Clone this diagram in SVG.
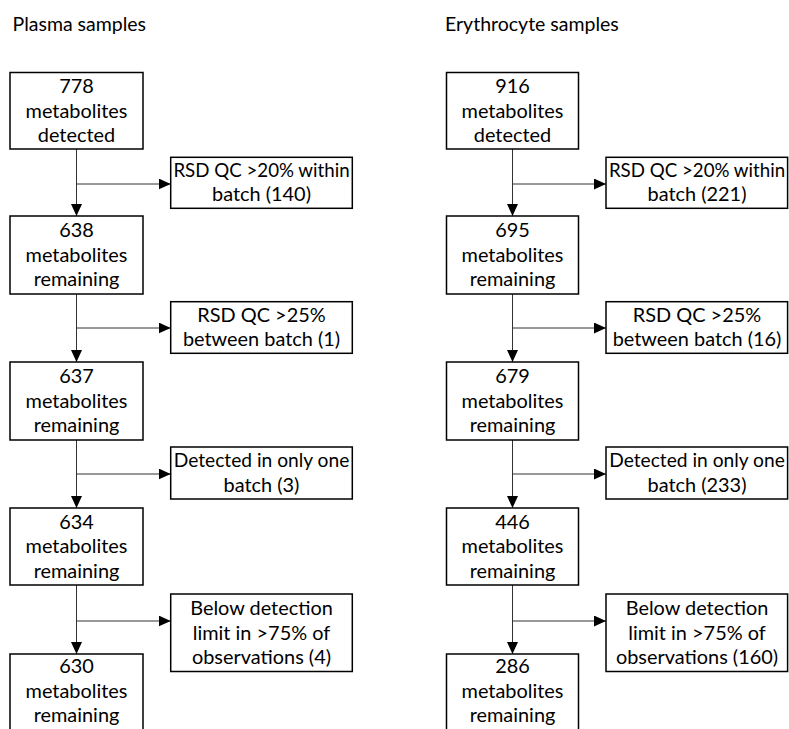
<svg xmlns="http://www.w3.org/2000/svg" width="789" height="729" viewBox="0 0 789 729">
<style>
  .bg{fill:#ffffff}
  .box{fill:#ffffff;stroke:#000000;stroke-width:1.5}
  .t{font-family:Lato,"Liberation Sans",sans-serif;font-size:19.9px;fill:#000000;text-anchor:middle}
  .w{font-size:18.7px}
  .d{font-size:19.2px}
  .title{font-family:Lato,"Liberation Sans",sans-serif;font-size:19.5px;fill:#000000}
  .c{stroke:#333333;stroke-width:1;fill:none;marker-end:url(#ah)}
</style>
<defs>
  <marker id="ah" markerUnits="userSpaceOnUse" markerWidth="12" markerHeight="11" refX="12" refY="5.5" orient="auto">
    <path d="M0,0 L12,5.5 L0,11 Z" fill="#000000"/>
  </marker>
</defs>
<rect class="bg" x="0" y="0" width="789" height="729"/>

<text class="title" x="12.5" y="30.5">Plasma samples</text>
<text class="title" x="445" y="30.5">Erythrocyte samples</text>

<g id="connectors">
  <line class="c" x1="76.5" y1="149" x2="76.5" y2="216"/>
  <line class="c" x1="76.5" y1="184" x2="170.7" y2="184"/>
  <line class="c" x1="76.5" y1="294" x2="76.5" y2="362"/>
  <line class="c" x1="76.5" y1="328" x2="170.7" y2="328"/>
  <line class="c" x1="76.5" y1="440" x2="76.5" y2="508"/>
  <line class="c" x1="76.5" y1="474" x2="170.7" y2="474"/>
  <line class="c" x1="76.5" y1="585" x2="76.5" y2="654"/>
  <line class="c" x1="76.5" y1="621" x2="170.7" y2="621"/>

  <line class="c" x1="512.5" y1="149" x2="512.5" y2="216"/>
  <line class="c" x1="512.5" y1="184" x2="606" y2="184"/>
  <line class="c" x1="512.5" y1="294" x2="512.5" y2="362"/>
  <line class="c" x1="512.5" y1="328" x2="606" y2="328"/>
  <line class="c" x1="512.5" y1="440" x2="512.5" y2="508"/>
  <line class="c" x1="512.5" y1="474" x2="606" y2="474"/>
  <line class="c" x1="512.5" y1="585" x2="512.5" y2="654"/>
  <line class="c" x1="512.5" y1="621" x2="606" y2="621"/>
</g>

<!-- Plasma column -->
<g id="p1">
  <rect class="box" x="10" y="72.5" width="133" height="76.5"/>
  <text class="t" x="76.5" y="93">778</text>
  <text class="t" x="76.5" y="117.5">metabolites</text>
  <text class="t" x="76.5" y="142">detected</text>
</g>
<g id="p1x">
  <rect class="box" x="170.7" y="157.3" width="181.6" height="51"/>
  <text class="t w" x="261.5" y="176.8">RSD QC &gt;20% within</text>
  <text class="t" x="261.5" y="201.3">batch (140)</text>
</g>
<g id="p2">
  <rect class="box" x="10" y="216" width="133" height="78"/>
  <text class="t" x="76.5" y="237.2">638</text>
  <text class="t" x="76.5" y="261.7">metabolites</text>
  <text class="t" x="76.5" y="286.2">remaining</text>
</g>
<g id="p2x">
  <rect class="box" x="170.7" y="301.7" width="181.6" height="51.6"/>
  <text class="t" x="261.5" y="321.5">RSD QC &gt;25%</text>
  <text class="t" x="261.5" y="346">between batch (1)</text>
</g>
<g id="p3">
  <rect class="box" x="10" y="362" width="133" height="78"/>
  <text class="t" x="76.5" y="383.2">637</text>
  <text class="t" x="76.5" y="407.7">metabolites</text>
  <text class="t" x="76.5" y="432.2">remaining</text>
</g>
<g id="p3x">
  <rect class="box" x="170.7" y="447" width="181.6" height="52"/>
  <text class="t d" x="261.5" y="467">Detected in only one</text>
  <text class="t" x="261.5" y="491.5">batch (3)</text>
</g>
<g id="p4">
  <rect class="box" x="10" y="508" width="133" height="77"/>
  <text class="t" x="76.5" y="528.7">634</text>
  <text class="t" x="76.5" y="553.2">metabolites</text>
  <text class="t" x="76.5" y="577.7">remaining</text>
</g>
<g id="p4x">
  <rect class="box" x="170.7" y="594" width="181.6" height="77.5"/>
  <text class="t" x="261.5" y="615">Below detection</text>
  <text class="t" x="261.5" y="639.5">limit in &gt;75% of</text>
  <text class="t" x="261.5" y="664">observations (4)</text>
</g>
<g id="p5">
  <rect class="box" x="10" y="654" width="133" height="100"/>
  <text class="t" x="76.5" y="673.2">630</text>
  <text class="t" x="76.5" y="697.7">metabolites</text>
  <text class="t" x="76.5" y="722.2">remaining</text>
</g>

<!-- Erythrocyte column -->
<g id="e1">
  <rect class="box" x="446.5" y="72.5" width="132" height="76.5"/>
  <text class="t" x="512.5" y="93">916</text>
  <text class="t" x="512.5" y="117.5">metabolites</text>
  <text class="t" x="512.5" y="142">detected</text>
</g>
<g id="e1x">
  <rect class="box" x="606" y="157.3" width="181.6" height="51"/>
  <text class="t w" x="697" y="176.8">RSD QC &gt;20% within</text>
  <text class="t" x="697" y="201.3">batch (221)</text>
</g>
<g id="e2">
  <rect class="box" x="446.5" y="216" width="132" height="78"/>
  <text class="t" x="512.5" y="237.2">695</text>
  <text class="t" x="512.5" y="261.7">metabolites</text>
  <text class="t" x="512.5" y="286.2">remaining</text>
</g>
<g id="e2x">
  <rect class="box" x="606" y="301.7" width="181.6" height="51.6"/>
  <text class="t" x="697" y="321.5">RSD QC &gt;25%</text>
  <text class="t" x="697" y="346">between batch (16)</text>
</g>
<g id="e3">
  <rect class="box" x="446.5" y="362" width="132" height="78"/>
  <text class="t" x="512.5" y="383.2">679</text>
  <text class="t" x="512.5" y="407.7">metabolites</text>
  <text class="t" x="512.5" y="432.2">remaining</text>
</g>
<g id="e3x">
  <rect class="box" x="606" y="447" width="181.6" height="52"/>
  <text class="t d" x="697" y="467">Detected in only one</text>
  <text class="t" x="697" y="491.5">batch (233)</text>
</g>
<g id="e4">
  <rect class="box" x="446.5" y="508" width="132" height="77"/>
  <text class="t" x="512.5" y="528.7">446</text>
  <text class="t" x="512.5" y="553.2">metabolites</text>
  <text class="t" x="512.5" y="577.7">remaining</text>
</g>
<g id="e4x">
  <rect class="box" x="606" y="594" width="181.6" height="77.5"/>
  <text class="t" x="697" y="615">Below detection</text>
  <text class="t" x="697" y="639.5">limit in &gt;75% of</text>
  <text class="t" x="697" y="664">observations (160)</text>
</g>
<g id="e5">
  <rect class="box" x="446.5" y="654" width="132" height="100"/>
  <text class="t" x="512.5" y="673.2">286</text>
  <text class="t" x="512.5" y="697.7">metabolites</text>
  <text class="t" x="512.5" y="722.2">remaining</text>
</g>
</svg>
